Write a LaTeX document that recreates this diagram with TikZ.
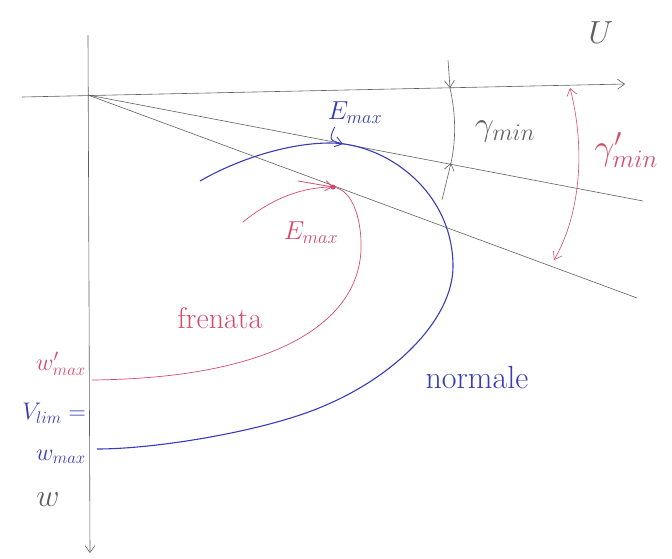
\documentclass[tikz,border=0pt]{standalone}
\usepackage{fix-cm}
\usetikzlibrary{arrows.meta}
\definecolor{bleu}{RGB}{55,60,185}
\definecolor{rouge}{RGB}{215,75,105}
\definecolor{gris}{RGB}{95,95,95}
\tikzset{
  trait/.style={gris, line width=0.6pt},
  fleche/.style={-{Straight Barb[length=7pt,width=10pt]}},
  etiq/.style={font=\fontsize{26}{30}\selectfont, inner sep=1pt},
}
\begin{document}
\begin{tikzpicture}[x=1pt,y=-1pt]
\useasboundingbox (0,0) rectangle (672,558);

% Axes U et w
\coordinate (O) at (88,95);
\coordinate (Ugauche) at (22,97);
\coordinate (Ubout) at (625,84);
\coordinate (Whaut) at (88,35);
\coordinate (Wbout) at (90,553);
\draw[trait, fleche] (Ugauche) -- (Ubout);
\draw[trait, fleche] (Whaut) -- (Wbout);
\node[etiq, gris, font=\fontsize{32}{36}\selectfont] (U) at (601,33) {$U$};
\node[etiq, gris, font=\fontsize{32}{36}\selectfont] (W) at (48,500) {$w$};

% Droites tangentes
\coordinate (Dsup) at (643,201);
\coordinate (Dinf) at (637,298);
\draw[trait] (O) -- (Dsup);
\draw[trait] (O) -- (Dinf);

% Angle gamma min
\coordinate (Ghaut) at (448,60);
\coordinate (Gaxe) at (450,88);
\coordinate (Gbas) at (442,200);
\coordinate (Gdroite) at (451,163);
\draw[trait, fleche] (Ghaut) -- (Gaxe);
\draw[trait, fleche] (Gbas) -- (Gdroite);
\draw[trait] (Gaxe) .. controls (456,115) and (456,140) .. (Gdroite);
\node[etiq, gris, font=\fontsize{34}{38}\selectfont] (gmin) at (505,131) {$\gamma_{min}$};

% Angle gamma' min
\coordinate (Rhaut) at (570,88);
\coordinate (Rbas) at (554,260);
\draw[rouge, line width=0.6pt, {Straight Barb[length=7pt,width=10pt]}-{Straight Barb[length=7pt,width=10pt]}]
  (Rhaut) .. controls (586,150) and (580,215) .. (Rbas);
\node[etiq, rouge, font=\fontsize{36}{40}\selectfont] (gpmin) at (626,150) {$\gamma'_{min}$};

% Polare normale
\draw[bleu, line width=1.1pt] (200,181) .. controls (240,158) and (290,143) .. (330,143)
  .. controls (385,143) and (452,190) .. (453,265)
  .. controls (454,320) and (390,385) .. (300,415)
  .. controls (240,435) and (150,449) .. (97,449);
\coordinate (Tnorm) at (343,144);
\node[etiq, bleu] (Enorm) at (355,113) {$E_{max}$};
\draw[bleu, line width=0.9pt, fleche] (Enorm.south west) ++(8,2) .. controls (329,140) .. (Tnorm);
\node[etiq, bleu, font=\fontsize{32}{36}\selectfont] (normale) at (477,378) {normale};

% Polare frenata
\draw[rouge, line width=0.7pt] (243,222) .. controls (270,200) and (300,187) .. (333,187)
  .. controls (355,190) and (362,225) .. (361,250)
  .. controls (358,320) and (280,378) .. (92,380);
\coordinate (Tfren) at (333,187);
\fill[rouge] (Tfren) circle (2.5);
\coordinate (Afren) at (298,181);
\draw[rouge, line width=0.8pt, fleche] (Afren) -- (Tfren);
\node[etiq, rouge] (Efren) at (311,233) {$E_{max}$};
\node[etiq, rouge, font=\fontsize{30}{34}\selectfont] (frenata) at (220,318) {frenata};

% Valori sull'asse w
\node[etiq, rouge, anchor=east, font=\fontsize{24}{28}\selectfont] (wpmax) at (87,364) {$w'_{max}$};
\node[etiq, bleu, anchor=east, font=\fontsize{24}{28}\selectfont] (vlim) at (87,413) {$V_{lim}=$};
\node[etiq, bleu, anchor=east, font=\fontsize{24}{28}\selectfont] (wmax) at (87,457) {$w_{max}$};

\end{tikzpicture}
\end{document}
